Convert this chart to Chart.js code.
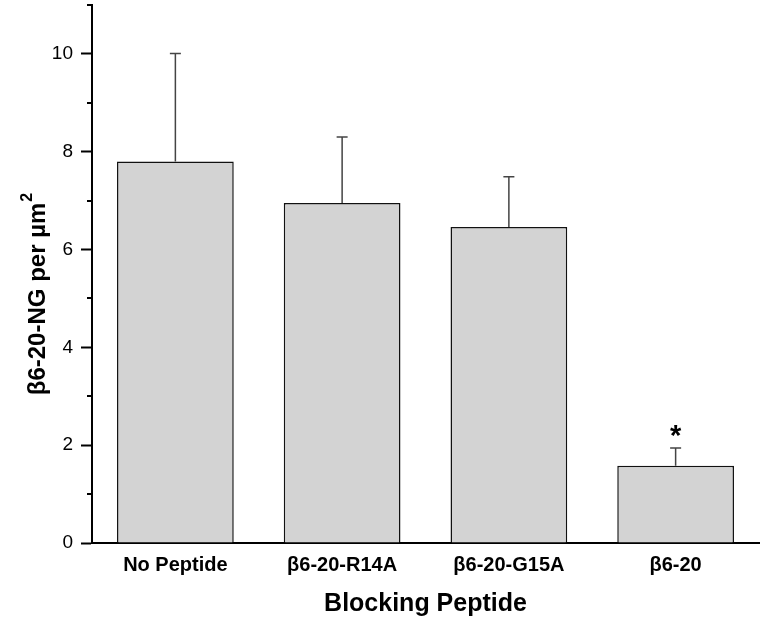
<!DOCTYPE html>
<html>
<head>
<meta charset="utf-8">
<script src="https://cdn.jsdelivr.net/npm/chart.js@4/dist/chart.umd.min.js"></script>
<style>
html,body{margin:0;padding:0;background:#fff;}
canvas{display:block;}
</style>
</head>
<body>
<canvas id="c" width="764" height="622"></canvas>
<script>
const categories = ['No Peptide', 'β6-20-R14A', 'β6-20-G15A', 'β6-20'];
const means = [7.80, 6.95, 6.46, 1.58];
const errors = [2.21, 1.35, 1.03, 0.36];
const markers = ['', '', '', '*'];
const yTitleMain = 'β6-20-NG per µm';
const yTitleSup = '2';
const xTitle = 'Blocking Peptide';
const yMin = 0, yMax = 11;

const FONT = "'Liberation Sans', Arial, sans-serif";

const errorBarPlugin = {
  id: 'errorBars',
  afterDatasetsDraw(chart) {
    const ctx = chart.ctx;
    const ys = chart.scales.y;
    const meta = chart.getDatasetMeta(0);
    ctx.save();
    meta.data.forEach((el, i) => {
      const x = el.x;
      const top = ys.getPixelForValue(means[i] + errors[i]);
      const base = ys.getPixelForValue(means[i]);
      ctx.strokeStyle = '#444';
      ctx.lineWidth = 1.5;
      ctx.beginPath();
      ctx.moveTo(x, base);
      ctx.lineTo(x, top);
      ctx.moveTo(x - 5.5, top);
      ctx.lineTo(x + 5.5, top);
      ctx.stroke();
      if (markers[i]) {
        ctx.fillStyle = '#000';
        ctx.font = 'bold 29px ' + FONT;
        ctx.textAlign = 'center';
        ctx.textBaseline = 'alphabetic';
        ctx.fillText(markers[i], x, top - 3);
      }
    });
    ctx.restore();
  },
  afterDraw(chart) {
    const ctx = chart.ctx;
    const ys = chart.scales.y;
    ctx.save();
    // minor ticks on the y axis at odd values
    ctx.strokeStyle = '#000';
    ctx.lineWidth = 2;
    for (let v = yMin + 1; v <= yMax; v += 2) {
      const p = Math.round(ys.getPixelForValue(v));
      ctx.beginPath();
      ctx.moveTo(chart.chartArea.left - 5, p);
      ctx.lineTo(chart.chartArea.left, p);
      ctx.stroke();
    }
    // y axis title with superscript
    ctx.fillStyle = '#000';
    ctx.font = 'bold 24px ' + FONT;
    const wMain = ctx.measureText(yTitleMain).width;
    ctx.font = 'bold 16px ' + FONT;
    const wSup = ctx.measureText(yTitleSup).width;
    const total = wMain + wSup + 1;
    const mid = (chart.chartArea.top + chart.chartArea.bottom) / 2 + 20;
    ctx.translate(45, mid);
    ctx.rotate(-Math.PI / 2);
    ctx.textAlign = 'left';
    ctx.textBaseline = 'alphabetic';
    ctx.font = 'bold 24px ' + FONT;
    ctx.fillText(yTitleMain, -total / 2, 0);
    ctx.font = 'bold 16px ' + FONT;
    ctx.fillText(yTitleSup, -total / 2 + wMain + 1, -13);
    ctx.restore();
  }
};

new Chart(document.getElementById('c'), {
  type: 'bar',
  data: {
    labels: categories,
    datasets: [{
      data: means,
      backgroundColor: '#d3d3d3',
      borderColor: '#111',
      borderWidth: 1.5,
      barPercentage: 0.7,
      categoryPercentage: 1.0
    }]
  },
  options: {
    responsive: false,
    devicePixelRatio: 1,
    animation: false,
    layout: { padding: { top: 5, right: 5, left: 0, bottom: 0 } },
    plugins: { legend: { display: false }, tooltip: { enabled: false } },
    scales: {
      x: {
        offset: true,
        grid: { display: false, drawTicks: false },
        border: { display: true, color: '#000', width: 2 },
        ticks: { color: '#000', font: { family: FONT, size: 20, weight: 'bold' }, padding: 10, maxRotation: 0 },
        title: { display: true, text: xTitle, color: '#000', font: { family: FONT, size: 25, weight: 'bold' }, padding: { top: 0, bottom: 3 } },
        afterFit(s) { s.height = 79; s.paddingLeft = 0; s.paddingRight = 0; }
      },
      y: {
        min: yMin,
        max: yMax,
        grid: {
          drawOnChartArea: false,
          drawTicks: true,
          tickLength: 11,
          tickWidth: 2,
          tickColor: (c) => (c.tick && c.tick.value % 2 === 0) ? '#000' : 'rgba(0,0,0,0)'
        },
        border: { display: true, color: '#000', width: 2 },
        ticks: {
          stepSize: 1,
          color: '#000',
          padding: 8,
          font: { family: FONT, size: 19 },
          callback: (v) => (v % 2 === 0 ? String(v) : '')
        },
        afterFit(s) { s.width = 92; s.paddingTop = 0; s.paddingBottom = 0; }
      }
    }
  },
  plugins: [errorBarPlugin]
});
</script>
</body>
</html>
